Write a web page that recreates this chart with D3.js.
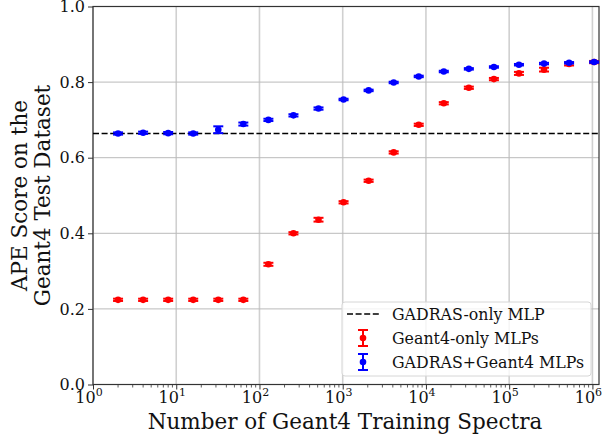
<!DOCTYPE html>
<html>
<head>
<meta charset="utf-8">
<script src="https://cdn.jsdelivr.net/npm/d3@7"></script>
<style>
  body { margin: 0; background: #fff; }
  text { font-family: "DejaVu Serif", serif; fill: #111; }
</style>
</head>
<body>
<div id="chart"></div>
<script>
var W = 604, H = 440;
var pLeft = 93, pRight = 599, pTop = 6.5, pBottom = 384.5;

// training set sizes (2^1 .. 2^20)
var sizes = [2, 4, 8, 16, 32, 64, 128, 256, 512, 1024, 2048, 4096, 8192,
  16384, 32768, 65536, 131072, 262144, 524288, 1048576];
var geantOnly = [0.224, 0.224, 0.224, 0.224, 0.224, 0.224, 0.318, 0.400, 0.436, 0.482,
  0.539, 0.614, 0.687, 0.744, 0.785, 0.808, 0.823, 0.833, 0.848, 0.853];
var geantOnlyErr = [0.003, 0.003, 0.003, 0.003, 0.003, 0.003, 0.004, 0.003, 0.005, 0.003,
  0.003, 0.003, 0.003, 0.003, 0.003, 0.003, 0.004, 0.005, 0.004, 0.003];
var combined = [0.664, 0.666, 0.665, 0.664, 0.674, 0.689, 0.700, 0.712, 0.730, 0.754,
  0.778, 0.799, 0.815, 0.828, 0.835, 0.840, 0.846, 0.849, 0.851, 0.853];
var combinedErr = [0.003, 0.003, 0.003, 0.003, 0.009, 0.004, 0.003, 0.003, 0.003, 0.002,
  0.002, 0.002, 0.002, 0.002, 0.002, 0.002, 0.002, 0.002, 0.002, 0.002];
var gadrasOnly = 0.664;
var yTicks = [0.0, 0.2, 0.4, 0.6, 0.8, 1.0];
var xTicks = [1, 10, 100, 1000, 10000, 100000, 1000000];
var legendLabels = ["GADRAS-only MLP", "Geant4-only MLPs", "GADRAS+Geant4 MLPs"];

var svg = d3.select("#chart").append("svg")
  .attr("width", W)
  .attr("height", H);

var x = d3.scaleLog().domain([1, 1.2e6]).range([pLeft, pRight]);
var y = d3.scaleLinear().domain([0, 1]).range([pBottom, pTop]);

// grid
svg.append("g").selectAll("line").data(xTicks).enter().append("line")
  .attr("x1", function(d) { return x(d); }).attr("x2", function(d) { return x(d); })
  .attr("y1", pTop).attr("y2", pBottom)
  .attr("stroke", "#d0d0d0").attr("stroke-width", 1.6);
svg.append("g").selectAll("line").data(yTicks).enter().append("line")
  .attr("x1", pLeft).attr("x2", pRight)
  .attr("y1", function(d) { return y(d); }).attr("y2", function(d) { return y(d); })
  .attr("stroke", "#bbbbbb").attr("stroke-width", 1);

// axes
var xAxis = d3.axisBottom(x).tickValues(xTicks).tickSize(5).tickFormat("");
var gx = svg.append("g").attr("transform", "translate(0," + pBottom + ")").call(xAxis);
gx.select(".domain").remove();
gx.selectAll(".tick line").attr("stroke", "#333").attr("stroke-width", 1);

var minor = [];
for (var e = 0; e < 7; e++) {
  for (var m = 2; m < 10; m++) {
    var v = m * Math.pow(10, e);
    if (v < 1.2e6) minor.push(v);
  }
}
svg.append("g").selectAll("line").data(minor).enter().append("line")
  .attr("x1", function(d) { return x(d); }).attr("x2", function(d) { return x(d); })
  .attr("y1", pBottom).attr("y2", pBottom + 3)
  .attr("stroke", "#333").attr("stroke-width", 0.8);

var xl = svg.append("g").selectAll("text").data(xTicks).enter().append("text")
  .attr("x", function(d) { return x(d) - 4; })
  .attr("y", 403)
  .attr("text-anchor", "middle")
  .attr("font-size", 16);
xl.append("tspan").text("10");
xl.append("tspan")
  .attr("font-size", 11)
  .attr("dy", -7)
  .text(function(d) { return Math.round(Math.log10(d)); });

var yAxis = d3.axisLeft(y).tickValues(yTicks).tickSize(5)
  .tickFormat(function(d) { return d.toFixed(1); });
var gy = svg.append("g").attr("transform", "translate(" + pLeft + ",0)").call(yAxis);
gy.select(".domain").remove();
gy.selectAll(".tick line").attr("stroke", "#333");
gy.selectAll(".tick text")
  .attr("font-family", "DejaVu Serif")
  .attr("font-size", 16)
  .attr("fill", "#111")
  .attr("x", -8);

// frame
svg.append("rect")
  .attr("x", pLeft).attr("y", pTop)
  .attr("width", pRight - pLeft).attr("height", pBottom - pTop)
  .attr("fill", "none").attr("stroke", "#333").attr("stroke-width", 1.2);

// GADRAS-only baseline
svg.append("line")
  .attr("x1", pLeft).attr("x2", pRight)
  .attr("y1", y(gadrasOnly)).attr("y2", y(gadrasOnly))
  .attr("stroke", "#000").attr("stroke-width", 1.6)
  .attr("stroke-dasharray", "6,2.6");

function errorbars(vals, errs, color) {
  var g = svg.append("g");
  var pts = g.selectAll("g").data(sizes).enter().append("g");
  pts.append("line")
    .attr("x1", function(d) { return x(d); }).attr("x2", function(d) { return x(d); })
    .attr("y1", function(d, i) { return y(vals[i] - errs[i]); })
    .attr("y2", function(d, i) { return y(vals[i] + errs[i]); })
    .attr("stroke", color).attr("stroke-width", 2);
  [-1, 1].forEach(function(s) {
    pts.append("line")
      .attr("x1", function(d) { return x(d) - 5; }).attr("x2", function(d) { return x(d) + 5; })
      .attr("y1", function(d, i) { return y(vals[i] + s * errs[i]); })
      .attr("y2", function(d, i) { return y(vals[i] + s * errs[i]); })
      .attr("stroke", color).attr("stroke-width", 2);
  });
  pts.append("circle")
    .attr("cx", function(d) { return x(d); })
    .attr("cy", function(d, i) { return y(vals[i]); })
    .attr("r", 3.3)
    .attr("fill", color);
}
errorbars(geantOnly, geantOnlyErr, "#ff0000");
errorbars(combined, combinedErr, "#0000ff");

// legend
var lg = svg.append("g").attr("transform", "translate(342,302)");
lg.append("rect")
  .attr("width", 249).attr("height", 74).attr("rx", 3)
  .attr("fill", "#fff").attr("fill-opacity", 0.8)
  .attr("stroke", "#d6d6d6");
lg.append("line")
  .attr("x1", 5).attr("x2", 37).attr("y1", 12).attr("y2", 12)
  .attr("stroke", "#000").attr("stroke-width", 1.6).attr("stroke-dasharray", "6,2.6");
[["#ff0000", 36], ["#0000ff", 60]].forEach(function(c) {
  var cx = 21, cy = c[1];
  lg.append("line").attr("x1", cx).attr("x2", cx).attr("y1", cy - 8).attr("y2", cy + 8)
    .attr("stroke", c[0]).attr("stroke-width", 2);
  lg.append("line").attr("x1", cx - 5).attr("x2", cx + 5).attr("y1", cy - 8).attr("y2", cy - 8)
    .attr("stroke", c[0]).attr("stroke-width", 2);
  lg.append("line").attr("x1", cx - 5).attr("x2", cx + 5).attr("y1", cy + 8).attr("y2", cy + 8)
    .attr("stroke", c[0]).attr("stroke-width", 2);
  lg.append("circle").attr("cx", cx).attr("cy", cy).attr("r", 3.3).attr("fill", c[0]);
});
lg.selectAll("text.lab").data(legendLabels).enter().append("text")
  .attr("class", "lab")
  .attr("x", 50)
  .attr("y", function(d, i) { return 12 + i * 24; })
  .attr("dy", "0.35em")
  .attr("font-size", 15.8)
  .text(function(d) { return d; });

// axis titles
svg.append("text")
  .attr("x", (pLeft + pRight) / 2 - 1)
  .attr("y", 429)
  .attr("text-anchor", "middle")
  .attr("font-size", 21.5)
  .text("Number of Geant4 Training Spectra");

var yt = svg.append("text")
  .attr("transform", "translate(27," + ((pTop + pBottom) / 2) + ") rotate(-90)")
  .attr("text-anchor", "middle")
  .attr("font-size", 21.5);
yt.append("tspan").attr("x", 0).attr("y", 0).text("APE Score on the");
yt.append("tspan").attr("x", 0).attr("y", 23).text("Geant4 Test Dataset");
</script>
</body>
</html>
